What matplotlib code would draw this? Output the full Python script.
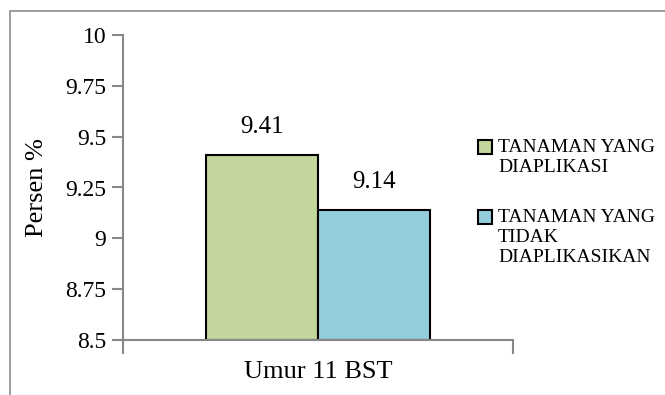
import matplotlib
matplotlib.use("Agg")
import matplotlib.pyplot as plt
from matplotlib.patches import Rectangle

plt.rcParams['font.family'] = ['Liberation Serif', 'DejaVu Serif']

category = ["Umur 11 BST"]
series_names = ["TANAMAN YANG\nDIAPLIKASI", "TANAMAN YANG\nTIDAK\nDIAPLIKASIKAN"]
values = [9.41, 9.14]
colors = ["#C3D69B", "#93CDDD"]
y_ticks = [8.5, 8.75, 9, 9.25, 9.5, 9.75, 10]
y_tick_labels = ["8.5", "8.75", "9", "9.25", "9.5", "9.75", "10"]

W, H = 665, 395
fig = plt.figure(figsize=(W / 100, H / 100), dpi=100)
ax = fig.add_axes([123/W, 55/H, 390/W, 305/H])

bar_w = 0.286
offsets = [-bar_w / 2, bar_w / 2]
for i, (v, c) in enumerate(zip(values, colors)):
    x = 0.5 + offsets[i]
    ax.bar(x, v - 8.5, bottom=8.5, width=bar_w, color=c, edgecolor="black", linewidth=1.5)
    ax.text(x, v + 0.085, f"{v:.2f}", ha="center", va="bottom", fontsize=18)

ax.set_xlim(0, 1)
ax.set_ylim(8.5, 10)
ax.set_yticks(y_ticks)
ax.set_yticklabels(y_tick_labels, fontsize=17)
ax.set_xticks([0, 1])
ax.set_xticklabels(["", ""])
ax.tick_params(axis="y", direction="out", length=8, width=1.5, color="#888888", pad=4)
ax.tick_params(axis="x", direction="out", length=10, width=1.5, color="#888888")
ax.text(0.5, -0.07, category[0], transform=ax.transAxes, ha="center", va="top", fontsize=19)

for s in ["top", "right"]:
    ax.spines[s].set_visible(False)
for s in ["left", "bottom"]:
    ax.spines[s].set_color("#888888")
    ax.spines[s].set_linewidth(1.5)

ax.set_ylabel("Persen %", fontsize=19)
ax.yaxis.set_label_coords(-0.193, 0.5)

# legend: square key aligned with the first line of each label
legend_rows = [147, 217]
line_h = 20.5
for name, c, yc in zip(series_names, colors, legend_rows):
    fig.patches.append(Rectangle((478/W, 1 - (yc + 7)/H), 14/W, 14/H,
                                 transform=fig.transFigure, facecolor=c,
                                 edgecolor="black", linewidth=1.5))
    for k, line in enumerate(name.split("\n")):
        fig.text(498/W, 1 - (yc + k * line_h)/H, line, ha="left", va="center",
                 fontsize=14)

fig.patches.append(Rectangle((10/W, -0.1), 1.1, (H - 11)/H + 0.1,
                             transform=fig.transFigure, fill=False,
                             edgecolor="#8c8c8c", linewidth=1.2, clip_on=False))

fig.savefig("out.png", dpi=100)
